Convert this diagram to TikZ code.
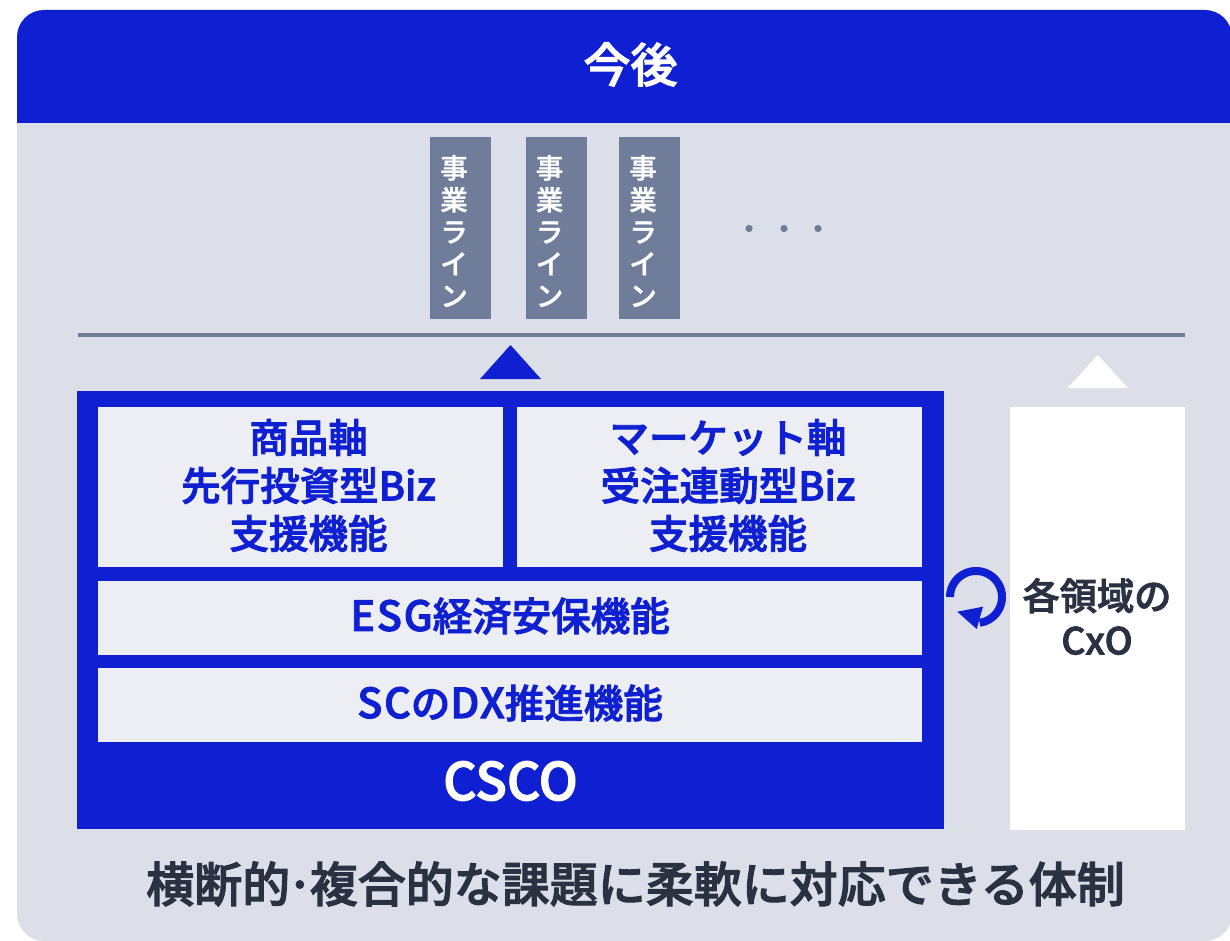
\documentclass[tikz,border=0pt]{standalone}
\usepackage{fontspec}
\setmainfont{Noto Sans CJK JP}
\newfontfamily\medfont[FakeBold=1.2]{Noto Sans CJK JP Medium}
\newfontfamily\semifont[FakeBold=2.2]{Noto Sans CJK JP Medium}
\newfontfamily\widefont[FakeBold=2.2,Scale=1.05,LetterSpace=4]{Noto Sans CJK JP Medium}
\definecolor{mainblue}{HTML}{0F1FD2}
\definecolor{backgrey}{HTML}{DCDFE7}
\definecolor{slategrey}{HTML}{6F7D9B}
\definecolor{panelgrey}{HTML}{ECEEF3}
\definecolor{darktext}{HTML}{2A3142}
\tikzset{
    panel/.style={fill=panelgrey, inner sep=0pt},
    paneltext/.style={text=mainblue, inner sep=0pt, align=center,
        font=\fontsize{39.5}{48}\selectfont\semifont},
    linebox/.style={fill=slategrey, inner sep=0pt, minimum width=61pt, minimum height=182pt},
    linetext/.style={text=white, inner sep=0pt, align=center,
        font=\fontsize{27.5}{32}\selectfont\medfont},
    plain/.style={inner sep=0pt, align=center}
}
\begin{document}
\begin{tikzpicture}[x=1pt, y=-1pt]
    \useasboundingbox (0,0) rectangle (1230,941);

    % Draw the grey card and its blue head
    \fill[backgrey, rounded corners=27pt] (17,10) rectangle (1232,941);
    \fill[backgrey] (17,100) rectangle (1232,900);
    \fill[mainblue, rounded corners=27pt] (17,10) rectangle (1232,90);
    \fill[mainblue] (17,60) rectangle (1232,123);
    \node[plain, text=white, font=\fontsize{47}{50}\selectfont\semifont] (head) at (630.5,64.5) {今後};

    % Draw the business lines
    \foreach \name/\x/\shift in {lineA/460.5/-6.5, lineB/556.5/-7, lineC/649.5/-6.5} {
        \node[linebox] (\name) at (\x,228) {};
        \node[linetext] (\name text) at (\x+\shift,231) {事\\業\\ラ\\イ\\ン};
    }

    % Add the three dots
    \foreach \x in {749,784,818}
        \fill[slategrey] (\x,228.5) circle (3.6pt);

    % Draw the line under them
    \draw[slategrey, line width=3.5pt] (78,335) -- (1185,335);

    % Draw the two triangles
    \fill[mainblue] (510.5,345) -- (541,379) -- (480,379) -- cycle;
    \fill[white] (1097.7,355) -- (1128,388) -- (1067.5,388) -- cycle;

    % Draw the CSCO block
    \node[fill=mainblue, inner sep=0pt, minimum width=867pt, minimum height=438pt] (csco) at (510.5,610) {};
    \node[panel, minimum width=405pt, minimum height=160pt] (product) at (300.5,487) {};
    \node[panel, minimum width=405pt, minimum height=160pt] (market) at (719.5,487) {};
    \node[panel, minimum width=824pt, minimum height=74pt] (esg) at (510,618) {};
    \node[panel, minimum width=824pt, minimum height=74pt] (scdx) at (510,705) {};
    \node[paneltext] (producttext) at (308.5,485.5) {商品軸\\先行投資型Biz\\支援機能};
    \node[paneltext] (markettext) at (728,485.5) {マーケット軸\\受注連動型Biz\\支援機能};
    \node[paneltext] (esgtext) at (510,616) {{\widefont ESG}経済安保機能};
    \node[paneltext] (scdxtext) at (510,703) {{\widefont SC}の{\widefont DX}推進機能};
    \node[plain, text=white, font=\fontsize{52}{54}\selectfont\semifont] (cscotext) at (510.5,781) {CSCO};

    % Draw the white block
    \node[fill=white, inner sep=0pt, minimum width=175pt, minimum height=423pt] (cxo) at (1097.5,618.5) {};
    \node[plain, text=darktext, font=\fontsize{37.2}{44.5}\selectfont\semifont] (cxotext) at (1097,616.5) {各領域の\\CxO};

    % Draw the round arrow
    \draw[mainblue, line width=8pt, domain=180:442, samples=60]
        plot ({976+26*cos(\x)}, {597+26*sin(\x)});
    \fill[mainblue] (957.3,611.7) -- (983,606.7) -- (976.7,629) -- cycle;

    % Add the bottom line
    \node[plain, text=darktext, font=\fontsize{48}{50}\selectfont\semifont] (summary) at (635.5,884) {横断的\kern-4pt·\kern-4pt複合的な課題に柔軟に対応できる体制};
\end{tikzpicture}
\end{document}
